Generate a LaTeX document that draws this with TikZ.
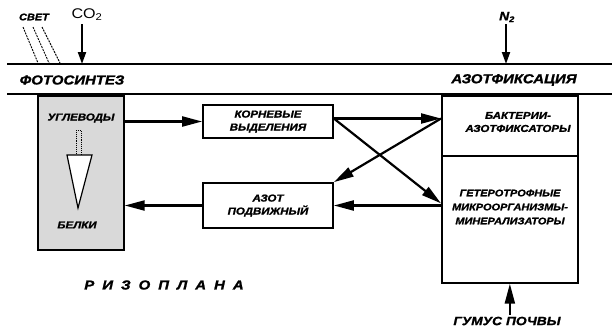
\documentclass[tikz,border=0pt]{standalone}
\usepackage{fontspec}
\setmainfont{Liberation Sans}
\newfontfamily\labfont[FakeStretch=1.15, BoldItalicFeatures={FakeBold=1.5}]{Liberation Sans}
\usetikzlibrary{arrows.meta}
\begin{document}
\begin{tikzpicture}[x=1pt,y=-1pt,
  lbl/.style={font=\labfont\bfseries\itshape\fontsize{10}{13}\selectfont, align=center, inner sep=0pt},
  big/.style={font=\labfont\bfseries\itshape\fontsize{13}{14}\selectfont, inner sep=0pt},
  box/.style={draw, line width=1.7pt},
  arr/.style={line width=2.2pt, -{Triangle[length=20pt,width=10pt]}},
  smallarr/.style={line width=2pt, -{Triangle[length=12pt,width=8pt]}},
  band/.style={line width=2pt},
  light/.style={line width=0.9pt, dash pattern=on 2pt off 1pt}]
\useasboundingbox (0,0) rectangle (612,330);
% band
\draw[band] (7,64) -- (612,64);
\draw[band] (7,94) -- (612,94);
\node[big] (foto) at (72,80) {ФОТОСИНТЕЗ};
\node[big] (azfix) at (514,80) {АЗОТФИКСАЦИЯ};
% inputs
\node[lbl, font=\labfont\bfseries\itshape\fontsize{9.5}{10}\selectfont] (svet) at (34,17) {СВЕТ};
\draw[light] (23,27) -- (38,63);
\draw[light] (33,27) -- (49,63);
\draw[light] (42,27) -- (60,63);
\node[inner sep=0pt, font=\labfont\fontsize{14}{15}\selectfont] (co2) at (87,15) {CO\textsubscript{2}};
\coordinate (co2end) at (82,64);
\draw[smallarr] (co2end |- co2.south) ++(0,3) -- (co2end);
\node[lbl, font=\labfont\bfseries\itshape\fontsize{12}{13}\selectfont] (n2) at (507,17) {N\textsubscript{2}};
\coordinate (n2end) at (506,64);
\draw[smallarr] (n2end |- n2.south) ++(0,2) -- (n2end);
% left shaded box
\node[box, fill=gray!30, minimum width=86pt, minimum height=154pt, anchor=north west] (lbox) at (37,95) {};
\node[lbl] (ugl) at (81,118) {УГЛЕВОДЫ};
\node[lbl] (belki) at (77,225) {БЕЛКИ};
\draw[densely dotted, line width=0.9pt] (76,130) rectangle (81,155);
\draw[line width=1.2pt, fill=white] (67,155) -- (92,155) -- (78,208) -- cycle;
% middle boxes
\node[box, lbl, minimum width=130pt, minimum height=33pt] (korn) at (268,121.5) {КОРНЕВЫЕ\\ВЫДЕЛЕНИЯ};
\node[box, lbl, minimum width=130pt, minimum height=45pt] (azot) at (268,205.5) {АЗОТ\\ПОДВИЖНЫЙ};
% right box
\node[box, minimum width=136pt, minimum height=60pt, anchor=north west] (bakt) at (441,95) {};
\node[box, minimum width=136pt, minimum height=127pt, anchor=north west] (geter) at (441,155) {};
\node[lbl] (baktt) at (518,122) {БАКТЕРИИ-\\АЗОТФИКСАТОРЫ};
\node[lbl, font=\labfont\bfseries\itshape\fontsize{9.5}{14}\selectfont] (gett) at (510,207) {ГЕТЕРОТРОФНЫЕ\\МИКРООРГАНИЗМЫ-\\МИНЕРАЛИЗАТОРЫ};
% bottom labels
\node[lbl, font=\labfont\bfseries\itshape\fontsize{13}{14}\selectfont] (rizo) at (164,285) {Р\hspace{8pt}И\hspace{8pt}З\hspace{8pt}О\hspace{8pt}П\hspace{8pt}Л\hspace{8pt}А\hspace{8pt}Н\hspace{8pt}А};
\node[lbl, font=\labfont\bfseries\itshape\fontsize{12}{13}\selectfont] (gumus) at (507,321) {ГУМУС\hspace{4pt}ПОЧВЫ};
% connectors
\coordinate (kE) at ([yshift=3pt]korn.east);
\coordinate (bW) at (bakt.west |- kE);
\draw[arr] (lbox.east |- korn.west) -- (korn.west);
\draw[arr] (kE) -- (bW);
\draw[arr] (kE) -- ([yshift=16pt]geter.west);
\draw[arr] (bW) -- (azot.north east);
\draw[arr] (geter.west |- azot.east) -- (azot.east);
\draw[arr] (azot.west) -- (lbox.east |- azot.west);
\draw[arr] (geter.south |- gumus.north) ++(0,-2) -- (geter.south);
\end{tikzpicture}
\end{document}
